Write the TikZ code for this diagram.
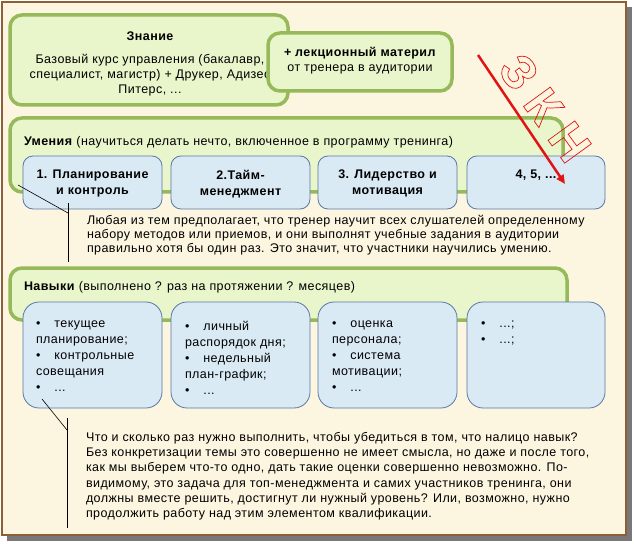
\documentclass[tikz,border=0pt]{standalone}
\usepackage{fontspec}
\setmainfont{Liberation Sans}[LetterSpace=3.5]
\usetikzlibrary{arrows.meta}
\newcommand\outl[1]{\special{pdf:code 1 Tr 0.7 w}#1\special{pdf:code 0 Tr}}
\definecolor{bgc}{RGB}{252,245,224}
\definecolor{framec}{RGB}{140,95,55}
\definecolor{shadc}{RGB}{120,120,120}
\definecolor{gfill}{RGB}{233,245,202}
\definecolor{gbord}{RGB}{150,185,90}
\definecolor{bfill}{RGB}{218,234,245}
\definecolor{bbord}{RGB}{90,120,165}
\definecolor{wred}{RGB}{225,20,20}
\tikzset{
  every node/.style={font=\fontsize{12.5}{15}\selectfont, inner sep=0pt, outer sep=0pt},
  greenbox/.style={draw=gbord, line width=3.5pt, fill=gfill, rounded corners=12pt, anchor=north west},
  bluebox/.style={draw=bbord, line width=0.8pt, fill=bfill, rounded corners=10pt, anchor=north west, minimum width=139pt},
  bluetall/.style={bluebox, rounded corners=16pt, minimum height=106pt},
  bluelow/.style={bluebox, minimum height=53pt},
  boxtitle/.style={font=\fontsize{12.5}{16}\selectfont\bfseries, align=center, anchor=north},
  listtext/.style={font=\fontsize{12.5}{16}\selectfont, align=left, anchor=north west},
  calloutline/.style={draw=black, line width=0.6pt},
  bodytext/.style={align=left, anchor=north west}
}
\begin{document}
\begin{tikzpicture}[x=1pt,y=-1pt]
\useasboundingbox (0,0) rectangle (634,545);
% frame
\fill[shadc] (7,7) rectangle (632,541);
\fill[bgc] (2,2) rectangle (626,535);
\draw[framec, line width=1.5pt] (2,2) rectangle (626,535);

% Знание
\node[greenbox, minimum width=278pt, minimum height=90pt] (zn) at (10,15) {};
\node[font=\fontsize{12.5}{15}\selectfont\bfseries] (zntitle) at (150,36) {Знание};
\node[align=center] (zntext) at (150,75) {Базовый курс управления (бакалавр,\\специалист, магистр) + Друкер, Адизес\\Питерс, ...};
\node[greenbox, minimum width=184pt, minimum height=58pt] (lec) at (268,33) {};
\node[align=center] (lectext) at (360,61) {\textbf{+ лекционный материл}\\от тренера в аудитории};

% Умения
\node[greenbox, minimum width=553pt, minimum height=74pt] (um) at (10,118) {};
\node[anchor=west] (umtitle) at (24,142) {\textbf{Умения} (научиться делать нечто, включенное в программу тренинга)};
\node[bluelow] (u1) at (23,156) {};
\node[bluelow] (u2) at (171,156) {};
\node[bluelow] (u3) at (318,156) {};
\node[bluelow, minimum width=138pt] (u4) at (467,156) {};
\node[boxtitle] (u1t) at (u1.north |- 0,170) {1. Планирование\\и контроль};
\node[boxtitle] (u2t) at (u2.north |- 0,170) {2.Тайм-\\менеджмент};
\node[boxtitle] (u3t) at (u3.north |- 0,170) {3. Лидерство и\\мотивация};
\node[boxtitle] (u4t) at (u4.north |- 0,170) {4, 5, ...};

% paragraph 1
\begin{scope}
\clip (80,205) rectangle (620,255);
\node[bodytext, font=\fontsize{12.5}{14}\selectfont] (p1) at (87,215) {Любая из тем предполагает, что тренер научит всех слушателей определенному\\набору методов или приемов, и они выполнят учебные задания в аудитории\\правильно хотя бы один раз. Это значит, что участники научились умению.};
\end{scope}
\coordinate (c1a) at (18,185);
\coordinate (c1b) at (68,213);
\coordinate (c1top) at (68,203);
\coordinate (c1bot) at (68,262);
\draw[calloutline] (c1a) -- (c1b);
\draw[calloutline] (c1top) -- (c1bot);

% Навыки
\node[greenbox, minimum width=557pt, minimum height=52pt] (nav) at (10,268) {};
\node[anchor=west] (navtitle) at (24,287) {\textbf{Навыки} (выполнено ? раз на протяжении ? месяцев)};
\node[bluetall] (n1) at (23,302) {};
\node[bluetall] (n2) at (171,302) {};
\node[bluetall] (n3) at (318,302) {};
\node[bluetall, minimum width=138pt] (n4) at (467,302) {};
\node[listtext] (n1t) at (36,321) {•\hspace{14pt}текущее\\планирование;\\•\hspace{14pt}контрольные\\совещания\\•\hspace{14pt}...};
\node[listtext] (n2t) at (185,321) {•\hspace{14pt}личный\\распорядок дня;\\•\hspace{14pt}недельный\\план-график;\\•\hspace{14pt}...};
\node[listtext] (n3t) at (332,321) {•\hspace{14pt}оценка\\персонала;\\•\hspace{14pt}система\\мотивации;\\•\hspace{14pt}...};
\node[listtext] (n4t) at (481,321) {•\hspace{14pt}...;\\•\hspace{14pt}...;};

% paragraph 2
\coordinate (c2a) at (42,399);
\coordinate (c2b) at (67,430);
\coordinate (c2top) at (67,418);
\coordinate (c2bot) at (67,528);
\draw[calloutline] (c2a) -- (c2b);
\draw[calloutline] (c2top) -- (c2bot);
\node[bodytext, font=\fontsize{12.5}{15.3}\selectfont] (p2) at (86,432) {Что и сколько раз нужно выполнить, чтобы убедиться в том, что налицо навык?\\Без конкретизации темы это совершенно не имеет смысла, но даже и после того,\\как мы выберем что-то одно, дать такие оценки совершенно невозможно. По-\\видимому, это задача для топ-менеджмента и самих участников тренинга, они\\должны вместе решить, достигнут ли нужный уровень? Или, возможно, нужно\\продолжить работу над этим элементом квалификации.};

% watermark and red arrow
\node[text=wred, font=\fontsize{48}{48}\selectfont\bfseries\addfontfeature{LetterSpace=26}, rotate=-54] (wm) at (545,108) {\outl{ЗКН}};
\coordinate (ar1) at (478,55);
\coordinate (ar2) at (565,184);
\draw[wred, line width=2.5pt, -{Triangle[length=9pt,width=8pt]}] (ar1) -- (ar2);
\end{tikzpicture}
\end{document}
